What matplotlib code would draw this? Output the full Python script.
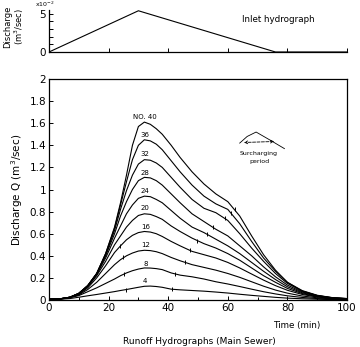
import matplotlib
matplotlib.use("Agg")
import matplotlib.pyplot as plt

# ---------------- data ----------------
inlet_t = [0, 30, 76, 100]
inlet_q = [0, 5.4, 0, 0]          # x10^-2 m3/sec

t = [0, 4, 7, 10, 13, 16, 19, 22, 24, 26, 28, 30, 32, 34, 36, 38, 41, 44, 48,
     52, 56, 60, 64, 68, 72, 76, 80, 85, 90, 95, 100]

q4 = [0.005, 0.008, 0.013, 0.025, 0.038, 0.05, 0.063, 0.076, 0.086, 0.095, 0.105, 0.115,
      0.124, 0.126, 0.122, 0.115, 0.098, 0.092, 0.086, 0.08, 0.072, 0.063, 0.052, 0.042,
      0.033, 0.024, 0.017, 0.011, 0.007, 0.004, 0.003]
q8 = [0.006, 0.009, 0.02, 0.04, 0.075, 0.11, 0.15, 0.19, 0.22, 0.245, 0.265, 0.28, 0.29,
      0.289, 0.284, 0.275, 0.245, 0.225, 0.21, 0.19, 0.165, 0.145, 0.122, 0.098, 0.075,
      0.055, 0.038, 0.023, 0.013, 0.007, 0.005]
q12 = [0.007, 0.01, 0.022, 0.045, 0.095, 0.16, 0.24, 0.32, 0.365, 0.40, 0.425, 0.443, 0.45,
       0.447, 0.437, 0.42, 0.385, 0.355, 0.32, 0.295, 0.27, 0.24, 0.205, 0.165, 0.125,
       0.09, 0.062, 0.036, 0.02, 0.01, 0.006]
q16 = [0.008, 0.011, 0.024, 0.05, 0.11, 0.2, 0.31, 0.43, 0.49, 0.545, 0.585, 0.61, 0.62,
       0.615, 0.60, 0.575, 0.53, 0.49, 0.44, 0.41, 0.38, 0.34, 0.29, 0.235, 0.18,
       0.13, 0.088, 0.05, 0.027, 0.014, 0.008]
q20 = [0.009, 0.012, 0.025, 0.055, 0.12, 0.22, 0.35, 0.50, 0.58, 0.66, 0.72, 0.765, 0.78,
       0.775, 0.755, 0.73, 0.67, 0.62, 0.56, 0.51, 0.47, 0.42, 0.36, 0.29, 0.22,
       0.16, 0.105, 0.058, 0.03, 0.016, 0.009]
q24 = [0.01, 0.012, 0.025, 0.058, 0.125, 0.23, 0.38, 0.56, 0.67, 0.78, 0.86, 0.92, 0.94,
       0.935, 0.91, 0.88, 0.81, 0.74, 0.66, 0.61, 0.55, 0.49, 0.42, 0.34, 0.26,
       0.185, 0.12, 0.065, 0.034, 0.018, 0.01]
q28 = [0.01, 0.012, 0.025, 0.06, 0.13, 0.235, 0.40, 0.60, 0.76, 0.89, 1.00, 1.08, 1.11,
       1.105, 1.08, 1.04, 0.96, 0.88, 0.78, 0.71, 0.64, 0.58, 0.49, 0.40, 0.30,
       0.21, 0.135, 0.072, 0.037, 0.019, 0.011]
q32 = [0.01, 0.012, 0.025, 0.06, 0.13, 0.24, 0.41, 0.63, 0.82, 0.99, 1.13, 1.23, 1.27,
       1.265, 1.24, 1.20, 1.11, 1.02, 0.91, 0.83, 0.79, 0.72, 0.60, 0.47, 0.35,
       0.24, 0.15, 0.08, 0.04, 0.02, 0.012]
q36 = [0.01, 0.012, 0.025, 0.06, 0.13, 0.24, 0.42, 0.65, 0.86, 1.07, 1.27, 1.40, 1.45,
       1.44, 1.41, 1.36, 1.26, 1.16, 1.04, 0.94, 0.87, 0.82, 0.69, 0.53, 0.38,
       0.26, 0.16, 0.085, 0.043, 0.022, 0.013]
q40 = [0.01, 0.012, 0.025, 0.06, 0.13, 0.24, 0.42, 0.66, 0.88, 1.13, 1.40, 1.57, 1.61,
       1.59, 1.55, 1.50, 1.40, 1.29, 1.16, 1.05, 0.96, 0.89, 0.76, 0.58, 0.41,
       0.27, 0.16, 0.08, 0.04, 0.021, 0.013]

curves = [q4, q8, q12, q16, q20, q24, q28, q32, q36, q40]
curve_names = ["4", "8", "12", "16", "20", "24", "28", "32", "36", "NO. 40"]
label_y = [0.17, 0.33, 0.50, 0.66, 0.83, 0.99, 1.15, 1.32, 1.49, 1.66]

# surcharge start / end marks
rise_tick_t = [25.9, 25.1, 24.8, 23.9]
rise_tick_q = [0.094, 0.235, 0.39, 0.49]
fall_tick_t = [41.4, 42.2, 45.6, 47.2, 49.8, 53.0, 55.0, 59.0, 61.0, 62.5]
fall_tick_q = [0.097, 0.236, 0.34, 0.45, 0.535, 0.595, 0.665, 0.74, 0.79, 0.82]

# small "surcharging period" sketch
sketch_t = [64.0, 66.5, 69.5, 74.0, 79.0]
sketch_q = [1.42, 1.48, 1.52, 1.45, 1.37]

# ---------------- figure ----------------
plt.rcParams['font.family'] = ['DejaVu Sans']
fig = plt.figure(figsize=(3.6, 3.47), dpi=100)

L, W = 49 / 360, 298 / 360
axt = fig.add_axes([L, 1 - 52 / 347, W, 42 / 347])
ax = fig.add_axes([L, 1 - 300 / 347, W, 221 / 347])

# top panel
axt.plot(inlet_t, inlet_q, color='black', lw=0.8)
axt.set_xlim(0, 100)
axt.set_ylim(0, 5.5)
for s in ['top', 'right']:
    axt.spines[s].set_visible(False)
for s in ['left', 'bottom']:
    axt.spines[s].set_linewidth(0.9)
axt.set_xticks([0, 20, 40, 60, 80, 100])
axt.set_xticklabels([])
axt.set_yticks([0, 1, 2, 3, 4, 5])
axt.set_yticklabels(['0', '', '', '', '', '5'])
axt.tick_params(direction='in', length=3, width=0.7, labelsize=7.5, pad=2)
axt.text(-0.015, 1.02, r'$\mathregular{x10^{-2}}$', transform=axt.transAxes,
         fontsize=4.5, ha='center', va='bottom')
axt.text(-0.115, 0.6, 'Discharge\n(m$^3$/sec)', transform=axt.transAxes,
         rotation=90, fontsize=6, ha='center', va='center', linespacing=1.0)
axt.text(77, 4.3, 'Inlet hydrograph', fontsize=6.3, ha='center', va='center')

# main panel
for q, name, ly in zip(curves, curve_names, label_y):
    ax.plot(t, q, color='black', lw=0.8)
    ax.text(32.3, ly, name, fontsize=5, ha='center', va='center')
ax.plot(rise_tick_t, rise_tick_q, ls='none', marker='|', ms=3.5, mew=0.7, color='black')
ax.plot(fall_tick_t, fall_tick_q, ls='none', marker='|', ms=3.5, mew=0.7, color='black')

ax.plot(sketch_t, sketch_q, color='black', lw=0.6)
ax.annotate('', xy=(64.5, 1.425), xytext=(76.5, 1.435),
            arrowprops=dict(arrowstyle='<->', lw=0.6, color='black',
                            mutation_scale=5, linestyle='--'))
ax.text(70.5, 1.33, 'Surcharging', fontsize=4.5, ha='center', va='center')
ax.text(70.5, 1.255, 'period', fontsize=4.5, ha='center', va='center')

ax.set_xlim(0, 100)
ax.set_ylim(0, 2)
ax.set_xticks([0, 20, 40, 60, 80, 100])
ax.set_xticks([10, 30, 50, 70, 90], minor=True)
yt = [0, 0.2, 0.4, 0.6, 0.8, 1.0, 1.2, 1.4, 1.6, 1.8, 2.0]
ax.set_yticks(yt)
ax.set_yticklabels(['0', '0.2', '0.4', '0.6', '0.8', '1', '1.2', '1.4', '1.6', '1.8', '2'])
ax.tick_params(which='both', direction='in', length=3, width=0.7, labelsize=7.5, pad=2)
ax.tick_params(which='minor', length=2)
for s in ax.spines.values():
    s.set_linewidth(0.9)
ax.set_ylabel('Discharge Q (m$^3$/sec)', fontsize=7.5, labelpad=3)
ax.text(0.83, -0.115, 'Time (min)', transform=ax.transAxes, fontsize=6.3,
        ha='center', va='center')
fig.text(0.555, 1 - 341 / 347, 'Runoff Hydrographs (Main Sewer)', fontsize=6.5,
         ha='center', va='center')

fig.savefig('out.png', dpi=100)
